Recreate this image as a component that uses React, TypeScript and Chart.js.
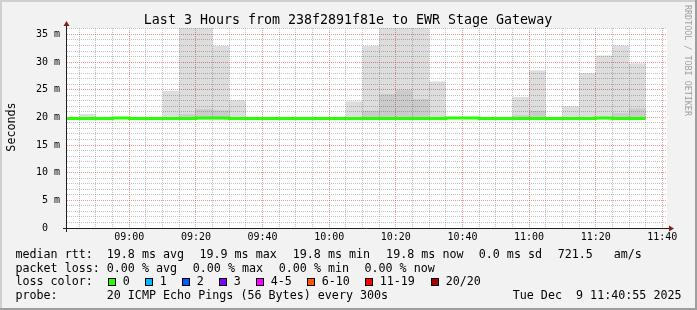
import React, { useEffect, useRef } from "react";
import { Chart, registerables } from "chart.js";

Chart.register(...registerables);

// ---------------- data ----------------
const titleText = "Last 3 Hours from 238f2891f81e to EWR Stage Gateway";
const yAxisTitle = "Seconds";
const creditText = "RRDTOOL / TOBI OETIKER";

// 5-minute intervals (start times)
const intervalStarts = [
  "08:40", "08:45", "08:50", "08:55", "09:00", "09:05", "09:10", "09:15", "09:20", "09:25",
  "09:30", "09:35", "09:40", "09:45", "09:50", "09:55", "10:00", "10:05", "10:10", "10:15",
  "10:20", "10:25", "10:30", "10:35", "10:40", "10:45", "10:50", "10:55", "11:00", "11:05",
  "11:10", "11:15", "11:20", "11:25", "11:30",
];
const dataEnd = "11:35";
const axisStart = "08:41:18";
const axisEnd = "11:41:24";

// median rtt (ms) per interval
const medianMs = [
  19.8, 19.8, 19.8, 19.9, 19.8, 19.8, 19.8, 19.8, 19.9, 19.9,
  19.8, 19.8, 19.8, 19.8, 19.8, 19.8, 19.8, 19.8, 19.8, 19.8,
  19.8, 19.8, 19.8, 19.9, 19.9, 19.8, 19.8, 19.8, 19.8, 19.8,
  19.8, 19.8, 19.9, 19.8, 19.8,
];
// smoke (spread of the pings), ms
const smokeMaxMs = [
  null, 20.6, null, null, null, null, 24.8, 38.0, 38.0, 32.9,
  23.1, null, null, null, null, null, null, 22.9, 32.9, 38.0,
  38.0, 38.0, 26.5, null, null, null, null, 23.7, 28.5, null,
  22.0, 28.0, 31.2, 33.0, 29.8,
];
const smokeInnerMaxMs = [
  null, null, null, null, null, null, null, 20.6, 21.5, 21.3,
  null, null, null, null, null, null, null, null, 21.2, 24.2,
  24.9, 23.3, null, null, null, null, null, 20.4, 21.2, null,
  null, null, null, 20.8, 21.6,
];
const smokeMinMs = smokeMaxMs.map((v) => (v === null ? null : 19.6));

const yMaxMs = 36.16;
const yMinorStep = 1;
const yMajorStep = 5;
const xMinorStepMin = 5;
const xMajorStepMin = 20;

// legend
const rowLabels = ["median rtt:", "packet loss:", "loss color:", "probe:"];
const medianRttStats = ["19.8 ms avg", "19.9 ms max", "19.8 ms min", "19.8 ms now", "0.0 ms sd", "721.5", "am/s"];
const packetLossStats = ["0.00 % avg", "0.00 % max", "0.00 % min", "0.00 % now"];
const lossColorLabels = ["0", "1", "2", "3", "4-5", "6-10", "11-19", "20/20"];
const lossColorHex = ["#26ff00", "#00b8ff", "#0059ff", "#7e00ff", "#ff00ff", "#ff5500", "#ff0000", "#a00000"];
const probeText = "20 ICMP Echo Pings (56 Bytes) every 300s";
const stampText = "Tue Dec  9 11:40:55 2025";

// ---------------- helpers ----------------
function toMin(s: string): number {
  const p = s.split(":").map(Number);
  return p[0] * 60 + p[1] + (p[2] || 0) / 60;
}
function fmtHM(v: number): string {
  const m = Math.round(v);
  const h = Math.floor(m / 60);
  const mm = m % 60;
  return String(h).padStart(2, "0") + ":" + String(mm).padStart(2, "0");
}

const FONT = "'DejaVu Sans Mono', monospace";
const GRID = "rgba(143,143,143,0.55)";
const MGRID = "rgba(222,79,79,0.6)";

const stepMin = xMinorStepMin;
const outerBars = intervalStarts
  .map((s, i) => (smokeMaxMs[i] === null ? null : { x: toMin(s) + stepMin / 2, y: [smokeMinMs[i], smokeMaxMs[i]] }))
  .filter(Boolean);
const innerBars = intervalStarts
  .map((s, i) => (smokeInnerMaxMs[i] === null ? null : { x: toMin(s) + stepMin / 2, y: [smokeMinMs[i] ?? 19.6, smokeInnerMaxMs[i]] }))
  .filter(Boolean);
const medianPoints = intervalStarts.map((s, i) => ({ x: toMin(s), y: medianMs[i] }));
medianPoints.push({ x: toMin(dataEnd), y: medianMs[medianMs.length - 1] });

// ---------------- decorations ----------------
const decorPlugin = {
  id: "decor",
  beforeDraw(chart: any) {
    const { ctx, chartArea: a, width, height } = chart;
    ctx.save();
    ctx.fillStyle = "#f2f2f2";
    ctx.fillRect(0, 0, width, height);
    ctx.fillStyle = "#ffffff";
    ctx.fillRect(a.left, a.top, a.right - a.left, a.bottom - a.top);
    ctx.restore();
  },
  afterDraw(chart: any) {
    const { ctx, chartArea: a, width, height } = chart;
    ctx.save();
    // frame
    ctx.fillStyle = "#cfcfcf";
    ctx.fillRect(0, 0, width, 2);
    ctx.fillRect(0, 0, 2, height);
    ctx.fillStyle = "#9e9e9e";
    ctx.fillRect(0, height - 2, width, 2);
    ctx.fillRect(width - 2, 0, 2, height);

    // axes
    ctx.strokeStyle = "#1f1f1f";
    ctx.lineWidth = 1;
    ctx.beginPath();
    ctx.moveTo(a.left - 4, a.bottom + 0.5);
    ctx.lineTo(a.right + 3, a.bottom + 0.5);
    ctx.moveTo(a.left - 0.5, a.bottom + 4);
    ctx.lineTo(a.left - 0.5, a.top - 2);
    ctx.stroke();
    ctx.fillStyle = "#801f1f";
    ctx.beginPath();
    ctx.moveTo(a.left - 0.5, a.top - 7);
    ctx.lineTo(a.left - 3.5, a.top - 2);
    ctx.lineTo(a.left + 2.5, a.top - 2);
    ctx.closePath();
    ctx.fill();
    ctx.beginPath();
    ctx.moveTo(a.right + 7, a.bottom + 0.5);
    ctx.lineTo(a.right + 2, a.bottom - 2.5);
    ctx.lineTo(a.right + 2, a.bottom + 3.5);
    ctx.closePath();
    ctx.fill();

    // title
    ctx.fillStyle = "#000";
    ctx.textBaseline = "alphabetic";
    ctx.textAlign = "center";
    ctx.font = `13.3px ${FONT}`;
    ctx.fillText(titleText, 348, 23.5);

    // y axis title
    ctx.save();
    ctx.translate(15, 127);
    ctx.rotate(-Math.PI / 2);
    ctx.font = `11.7px ${FONT}`;
    ctx.textAlign = "center";
    ctx.fillText(yAxisTitle, 0, 0);
    ctx.restore();

    // credit
    ctx.save();
    ctx.translate(685, 5);
    ctx.rotate(Math.PI / 2);
    ctx.font = `8.4px ${FONT}`;
    ctx.textAlign = "left";
    ctx.fillStyle = "#a0a0a0";
    ctx.fillText(creditText, 0, 0);
    ctx.restore();

    // legend rows
    ctx.font = `11.7px ${FONT}`;
    ctx.textAlign = "left";
    ctx.fillStyle = "#000";
    const off = -0.6;
    const rowY = [258, 271.6, 285.3, 299];
    rowLabels.forEach((t, i) => ctx.fillText(t, 16 + off, rowY[i]));
    const rttX = [107.3, 200, 293.3, 386.7, 479.3, 558.3, 614.3];
    medianRttStats.forEach((t, i) => ctx.fillText(t, rttX[i] + off, rowY[0]));
    const lossX = [107.3, 193.3, 279.3, 365];
    packetLossStats.forEach((t, i) => ctx.fillText(t, lossX[i] + off, rowY[1]));
    const boxX = [108, 145, 182, 219, 256, 307, 365, 431];
    lossColorLabels.forEach((t, i) => {
      ctx.fillStyle = "#000";
      ctx.fillRect(boxX[i], 278, 8, 8);
      ctx.fillStyle = lossColorHex[i];
      ctx.fillRect(boxX[i] + 1, 279, 6, 6);
      ctx.fillStyle = "#000";
      ctx.fillText(t, boxX[i] + 15.3 + off, rowY[2]);
    });
    ctx.fillText(probeText, 107.3 + off, rowY[3]);
    ctx.fillText(stampText, 513.3 + off, rowY[3]);
    ctx.restore();
  },
};

export default function App() {
  const ref = useRef<HTMLCanvasElement>(null);
  useEffect(() => {
    document.body.style.margin = "0";
    const chart = new Chart(ref.current as HTMLCanvasElement, {
      type: "bar",
      data: {
        datasets: [
          {
            type: "line",
            label: "median rtt",
            data: medianPoints as any,
            stepped: true,
            borderColor: "#26ff00",
            borderWidth: 3,
            borderCapStyle: "butt",
            borderJoinStyle: "miter",
            pointRadius: 0,
            fill: false,
            clip: 0,
            order: 0,
          } as any,
          {
            type: "bar",
            label: "smoke inner",
            data: innerBars as any,
            backgroundColor: "rgba(0,0,0,0.08)",
            borderWidth: 0,
            inflateAmount: 0,
            grouped: false,
            barPercentage: 1,
            categoryPercentage: 1,
            order: 1,
          } as any,
          {
            type: "bar",
            label: "smoke",
            data: outerBars as any,
            backgroundColor: "rgba(0,0,0,0.135)",
            borderWidth: 0,
            inflateAmount: 0,
            grouped: false,
            barPercentage: 1,
            categoryPercentage: 1,
            order: 2,
          } as any,
        ],
      },
      options: {
        responsive: false,
        animation: false,
        devicePixelRatio: 1,
        events: [],
        layout: { padding: { left: 0, right: 30, top: 28, bottom: 62 } },
        plugins: {
          legend: { display: false },
          title: { display: false },
          tooltip: { enabled: false },
        },
        scales: {
          x: {
            type: "linear",
            min: toMin(axisStart),
            max: toMin(axisEnd),
            offset: false,
            grid: {
              offset: false,
              drawTicks: false,
              lineWidth: 1,
              color: (c: any) => (c.tick && Math.round(c.tick.value) % xMajorStepMin === 0 ? MGRID : GRID),
            },
            border: { display: false, dash: [1, 1] },
            ticks: {
              stepSize: xMinorStepMin,
              autoSkip: false,
              maxRotation: 0,
              minRotation: 0,
              includeBounds: false,
              padding: 3,
              color: "#000",
              font: { family: FONT, size: 10 },
              callback: (v: any) => (Math.round(Number(v)) % xMajorStepMin === 0 ? fmtHM(Number(v)) : ""),
            },
            afterFit: (s: any) => {
              s.height = 20;
            },
          },
          y: {
            type: "linear",
            min: 0,
            max: yMaxMs,
            grid: {
              drawTicks: false,
              lineWidth: 1,
              color: (c: any) => (c.tick && Math.round(c.tick.value) % yMajorStep === 0 ? MGRID : GRID),
            },
            border: { display: false, dash: [1, 1] },
            ticks: {
              stepSize: yMinorStep,
              autoSkip: false,
              includeBounds: false,
              padding: 7,
              color: "#000",
              font: { family: FONT, size: 10 },
              callback: (v: any) => {
                const n = Math.round(Number(v));
                if (n % yMajorStep !== 0) return "";
                return n === 0 ? "0  " : `${n} m`;
              },
            },
            afterFit: (s: any) => {
              s.width = 67;
            },
          },
        },
      } as any,
      plugins: [decorPlugin as any],
    });
    return () => chart.destroy();
  }, []);
  return (
    <div style={{ position: "fixed", left: 0, top: 0, width: 697, height: 310 }}>
      <canvas ref={ref} width={697} height={310} style={{ display: "block", width: 697, height: 310 }} />
    </div>
  );
}
